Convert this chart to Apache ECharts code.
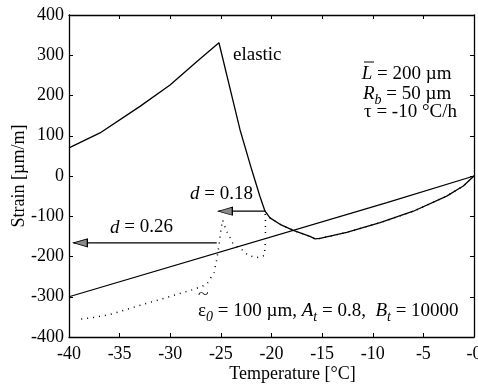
<!DOCTYPE html>
<html>
<head>
<meta charset="utf-8">
<script src="https://cdn.jsdelivr.net/npm/echarts@6/dist/echarts.min.js"></script>
<style>
  html, body { margin: 0; padding: 0; background: #fff; }
  #chart { width: 478px; height: 386px; }
</style>
</head>
<body>
<div id="chart"></div>
<script>
// axis ticks
const xTicks = [-40, -35, -30, -25, -20, -15, -10, -5, 0]
const yTicks = [-400, -300, -200, -100, 0, 100, 200, 300, 400]

// elastic response (solid)
const elasticT = [-40, -36.94, -32.99, -30.02, -27.39, -25.19, -23.11, -21.96, -21.14, -20.64, -20.15, -19.16, -17.85, -16.2, -15.7, -15.21, -12.57, -9.28, -5.99, -2.7, -1.06, 0]
const elasticS = [70, 107, 173, 226, 284, 331, 115, 16, -51, -87.5, -104, -120, -135, -150, -156, -155, -140, -116, -87.5, -50, -25, 0]

// straight reference line
const lineT = [-40, -8.6, 0]
const lineS = [-300, -66, 0]

// damaged response (dotted)
const dotT = [0, -1.06, -2.7, -5.99, -9.28, -12.57, -15.21, -15.7, -16.2, -17.85, -19.16, -20.15, -20.64, -20.6, -20.6, -20.7, -21.46, -22.29, -22.94, -23.77, -24.1, -24.49, -24.82, -24.99, -25.09, -25.2, -25.41, -25.68, -26.4, -27.72, -29.36, -31.01, -32.69, -34.3, -35.95, -37.6, -39.08]
const dotS = [0, -25, -50, -87.5, -116, -140, -155, -156, -150, -135, -120, -104, -87.5, -110, -160, -197.5, -203, -197.5, -182.6, -170, -152.8, -134.7, -109.8, -131, -152.8, -174.4, -207.5, -239.8, -269.6, -282, -294.4, -306.8, -319, -331.7, -344, -351.6, -356.5]

// arrows [start, tip]
const arrow018 = [[-20.6, -87.5], [-25.25, -87.5]]
const arrow026 = [[-25.41, -166], [-39.57, -166]]

const FONT = '"Liberation Serif", "Times New Roman", serif'
const zip = (a, b) => a.map((v, i) => [v, b[i]])

const chart = echarts.init(document.getElementById('chart'), null, { renderer: 'canvas' })

const arrowSeries = (pts) => ({
  type: 'line',
  silent: true,
  xAxisIndex: 0, yAxisIndex: 0,
  lineStyle: { color: '#000', width: 1.2 },
  data: [
    { value: pts[0], symbol: 'none' },
    {
      value: pts[1],
      symbol: 'triangle',
      symbolSize: [8, 14],
      symbolRotate: 90,
      symbolOffset: [7, 0],
      itemStyle: { color: '#8a8a8a', borderColor: '#000', borderWidth: 1 },
    },
  ],
})

const baseText = { fontFamily: FONT, fontSize: 19, fill: '#000', verticalAlign: 'middle', lineHeight: 27 }
const rich = {
  i: { fontFamily: FONT, fontSize: 19, fontStyle: 'italic', lineHeight: 27 },
  s: { fontFamily: FONT, fontSize: 14, fontStyle: 'italic', lineHeight: 14, verticalAlign: 'bottom' },
}
const label = (x, y, text) => ({
  type: 'text', x: x, y: y, silent: true,
  style: Object.assign({ text: text, rich: rich }, baseText),
})

const frameAxis = {
  axisLine: { onZero: false, lineStyle: { color: '#000', width: 1.3 } },
  axisTick: { show: true, inside: true, length: 4, lineStyle: { color: '#000' } },
  splitLine: { show: false },
}

const option = {
  animation: false,
  grid: { left: 69, right: 4, top: 15, bottom: 49, outerBoundsMode: 'none', containLabel: false },
  xAxis: [
    Object.assign({}, frameAxis, {
      type: 'value', position: 'bottom', min: xTicks[0], max: xTicks[xTicks.length - 1], interval: 5,
      name: 'Temperature [°C]', nameLocation: 'middle', nameGap: 28, nameMoveOverlap: false,
      nameTextStyle: { fontFamily: FONT, fontSize: 18, color: '#000', padding: [0, 0, 0, 42] },
      axisLabel: { fontFamily: FONT, fontSize: 18, color: '#000', margin: 8,
        formatter: (v) => (v === 0 ? '-0' : String(v)) },
    }),
    Object.assign({}, frameAxis, {
      type: 'value', position: 'top', min: xTicks[0], max: xTicks[xTicks.length - 1], interval: 5,
      axisLabel: { show: false },
    }),
  ],
  yAxis: [
    Object.assign({}, frameAxis, {
      type: 'value', position: 'left', min: yTicks[0], max: yTicks[yTicks.length - 1], interval: 100,
      name: 'Strain [µm/m]', nameLocation: 'middle', nameGap: 41, nameMoveOverlap: false,
      nameTextStyle: { fontFamily: FONT, fontSize: 18, color: '#000' },
      axisLine: { show: true, onZero: false, lineStyle: { color: '#000', width: 1.3 } },
      axisLabel: { fontFamily: FONT, fontSize: 18, color: '#000', margin: 5 },
    }),
    Object.assign({}, frameAxis, {
      type: 'value', position: 'right', min: yTicks[0], max: yTicks[yTicks.length - 1], interval: 100,
      axisLine: { show: true, onZero: false, lineStyle: { color: '#000', width: 1.3 } },
      axisLabel: { show: false },
    }),
  ],
  series: [
    {
      type: 'line', symbol: 'none', silent: true,
      lineStyle: { color: '#000', width: 1.3 },
      data: zip(lineT, lineS),
    },
    {
      type: 'line', symbol: 'none', silent: true,
      lineStyle: { color: '#000', width: 1.3 },
      data: zip(elasticT, elasticS),
    },
    {
      type: 'line', symbol: 'none', silent: true,
      lineStyle: { color: '#000', width: 1.5, type: [1, 5], cap: 'butt' },
      data: zip(dotT, dotS),
    },
    arrowSeries(arrow018),
    arrowSeries(arrow026),
  ],
  graphic: [
    label(233, 55, 'elastic'),
    label(361.7, 74, '{i|L} = 200 µm'),
    { type: 'line', silent: true, shape: { x1: 364, y1: 62, x2: 374, y2: 62 }, style: { stroke: '#000', lineWidth: 1 } },
    label(363, 94, '{i|R}{s|b} = 50 µm'),
    label(364, 112, 'τ = -10 °C/h'),
    label(190, 194, '{i|d} = 0.18'),
    label(110, 227.5, '{i|d} = 0.26'),
    label(198, 311, 'ε{s|0} = 100 µm, {i|A}{s|t} = 0.8,  {i|B}{s|t} = 10000'),
    { type: 'text', x: 198, y: 295, scaleX: 1.4, silent: true,
      style: { text: '~', fontFamily: FONT, fontSize: 14, fill: '#000', verticalAlign: 'middle' } },
  ],
}

chart.setOption(option)
</script>
</body>
</html>
